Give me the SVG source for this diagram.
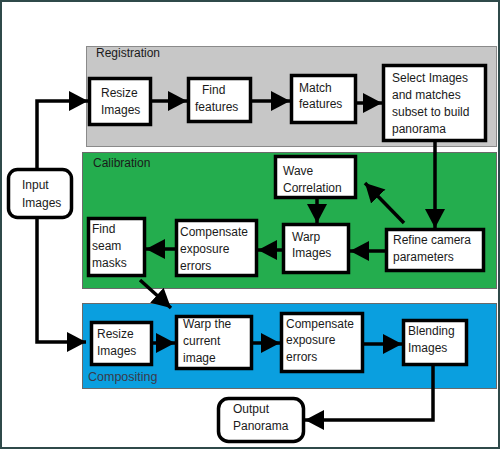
<svg xmlns="http://www.w3.org/2000/svg" width="500" height="449" viewBox="0 0 500 449">
<defs>
<style>
.node rect{fill:#fff;stroke:#000;stroke-width:3.5}
.node text,.lbl{font-family:"Liberation Sans",Arial,sans-serif;font-size:12px;fill:#1a1a1a}
.conn path{fill:none;stroke:#000;stroke-width:3.5}
</style>
<marker id="ah" markerUnits="userSpaceOnUse" markerWidth="20" markerHeight="22" refX="19" refY="11" orient="auto">
<path d="M0,1 L19,11 L0,21 z" fill="#000"/>
</marker>
</defs>
<rect x="0" y="0" width="500" height="449" fill="#fff"/>
<rect x="1" y="1" width="498" height="447" fill="none" stroke="#2f4a4a" stroke-width="2"/>
<g id="panels">
<rect x="86.5" y="46.5" width="410" height="100" fill="#c7c7c7" stroke="#8a8a8a" stroke-width="1"/>
<rect x="82.5" y="152.5" width="414" height="136" fill="#24ad4e" stroke="#6a6a6a" stroke-width="1"/>
<rect x="82.5" y="303.5" width="414" height="85" fill="#0a9fdf" stroke="#6a6a6a" stroke-width="1"/>
<text class="lbl" x="96" y="57">Registration</text>
<text class="lbl" x="93" y="167">Calibration</text>
<text class="lbl" x="88" y="381" style="fill:#3a3a4a;font-size:12.5px">Compositing</text>
</g>
<g class="conn" id="connectors">
<path d="M37,168 V101 H88" marker-end="url(#ah)"/>
<path d="M37,219 V342 H86" marker-end="url(#ah)"/>
<path d="M152,101 H187" marker-end="url(#ah)"/>
<path d="M251,101 H290" marker-end="url(#ah)"/>
<path d="M357,103 H382" marker-end="url(#ah)"/>
<path d="M435,142 V228" marker-end="url(#ah)"/>
<path d="M385,251 H350" marker-end="url(#ah)"/>
<path d="M282,250 H258" marker-end="url(#ah)"/>
<path d="M175,249 H146" marker-end="url(#ah)"/>
<path d="M317,199 V223" marker-end="url(#ah)"/>
<path d="M404,223 L365,183" marker-end="url(#ah)"/>
<path d="M140,280 L171,308" marker-end="url(#ah)"/>
<path d="M153,343 H175" marker-end="url(#ah)"/>
<path d="M253,343 H280" marker-end="url(#ah)"/>
<path d="M364,344 H402" marker-end="url(#ah)"/>
<path d="M433,366 V420 H305" marker-end="url(#ah)"/>
</g>
<g class="node" id="input"><rect x="8.5" y="169.5" width="63" height="48" rx="9"/><text x="22" y="189">Input</text><text x="22" y="207">Images</text></g>
<g class="node" id="reg-resize"><rect x="89.5" y="78.5" width="61" height="46"/><text x="101" y="97">Resize</text><text x="101" y="114">Images</text></g>
<g class="node" id="find-features"><rect x="188.5" y="78.5" width="62" height="43"/><text x="202" y="94">Find</text><text x="195" y="111">features</text></g>
<g class="node" id="match-features"><rect x="291.5" y="75.5" width="64" height="47"/><text x="299" y="92">Match</text><text x="299" y="108">features</text></g>
<g class="node" id="select"><rect x="383.5" y="65.5" width="102" height="75"/><text x="392" y="82">Select Images</text><text x="392" y="99">and matches</text><text x="392" y="116">subset to build</text><text x="392" y="133">panorama</text></g>
<g class="node" id="wave"><rect x="275.5" y="156.5" width="80" height="41"/><text x="283" y="175">Wave</text><text x="283" y="192">Correlation</text></g>
<g class="node" id="refine"><rect x="386.5" y="229.5" width="97" height="41"/><text x="393" y="244">Refine camera</text><text x="393" y="261">parameters</text></g>
<g class="node" id="warp-images"><rect x="283.5" y="224.5" width="65" height="48"/><text x="292" y="241">Warp</text><text x="292" y="257">Images</text></g>
<g class="node" id="cal-compensate"><rect x="176.5" y="220.5" width="80" height="55"/><text x="180" y="236">Compensate</text><text x="180" y="253">exposure</text><text x="180" y="270">errors</text></g>
<g class="node" id="seam"><rect x="88.5" y="218.5" width="56" height="57"/><text x="92" y="233">Find</text><text x="92" y="250">seam</text><text x="92" y="267">masks</text></g>
<g class="node" id="comp-resize"><rect x="91.5" y="322.5" width="60" height="42"/><text x="97" y="338">Resize</text><text x="97" y="355">Images</text></g>
<g class="node" id="warp-current"><rect x="176.5" y="316.5" width="75" height="52"/><text x="183" y="328">Warp the</text><text x="183" y="345">current</text><text x="183" y="362">image</text></g>
<g class="node" id="comp-compensate"><rect x="281.5" y="313.5" width="81" height="58"/><text x="286" y="328">Compensate</text><text x="286" y="344">exposure</text><text x="286" y="361">errors</text></g>
<g class="node" id="blending"><rect x="403.5" y="320.5" width="63" height="44"/><text x="408" y="335">Blending</text><text x="408" y="352">Images</text></g>
<g class="node" id="output"><rect x="218.5" y="398.5" width="85" height="43" rx="10"/><text x="233" y="413">Output</text><text x="233" y="430">Panorama</text></g>
</svg>
